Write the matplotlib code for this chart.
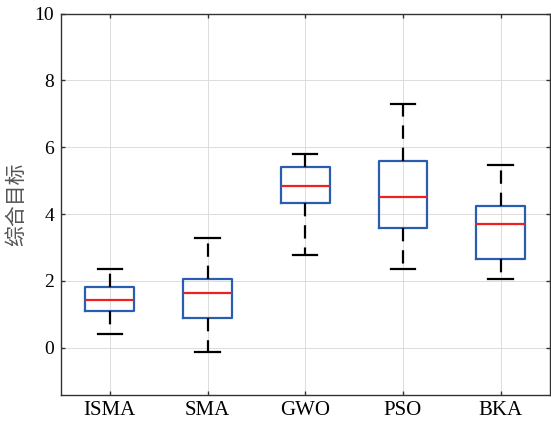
import matplotlib
matplotlib.use('Agg')
import matplotlib.pyplot as plt

names = ['ISMA', 'SMA', 'GWO', 'PSO', 'BKA']
whislo = [0.42, -0.14, 2.78, 2.37, 2.07]
q1 = [1.09, 0.88, 4.34, 3.58, 2.66]
med = [1.44, 1.65, 4.84, 4.50, 3.70]
q3 = [1.82, 2.06, 5.40, 5.60, 4.25]
whishi = [2.36, 3.29, 5.81, 7.30, 5.46]

plt.rcParams['font.family'] = ['Liberation Serif', 'Noto Sans CJK SC']

fig = plt.figure(figsize=(5.51, 4.22), dpi=100)
ax = fig.add_axes([61/551, 27.5/422, 488.5/551, 381/422])

stats = []
for i in range(len(names)):
    stats.append({'label': names[i], 'whislo': whislo[i], 'q1': q1[i], 'med': med[i],
                  'q3': q3[i], 'whishi': whishi[i], 'fliers': []})

ax.bxp(stats, positions=range(1, 6), widths=0.5, showfliers=False,
       boxprops=dict(color='#2a5db0', linewidth=1.6),
       medianprops=dict(color='#f02020', linewidth=1.6),
       whiskerprops=dict(color='black', linewidth=1.6, linestyle=(0, (6, 4))),
       capprops=dict(color='black', linewidth=1.6), capwidths=0.25)

ax.set_xlim(0.5, 5.5)
ax.set_ylim(-1.4, 10)
ax.set_yticks([0, 2, 4, 6, 8, 10])
ax.grid(True, color='#dcdcdc', linewidth=0.7)
ax.set_axisbelow(True)
ax.tick_params(direction='in', right=True, top=True, length=3, width=1.0, color='#333333')
ax.tick_params(axis='y', labelsize=14, pad=5)
ax.tick_params(axis='x', labelsize=15, pad=5)
for s in ax.spines.values():
    s.set_color('#333333')
    s.set_linewidth(1.0)
ax.set_ylabel('综合目标', fontsize=15, color='#555555', family='Noto Sans CJK SC', labelpad=5)

fig.savefig('out.png', dpi=100)
